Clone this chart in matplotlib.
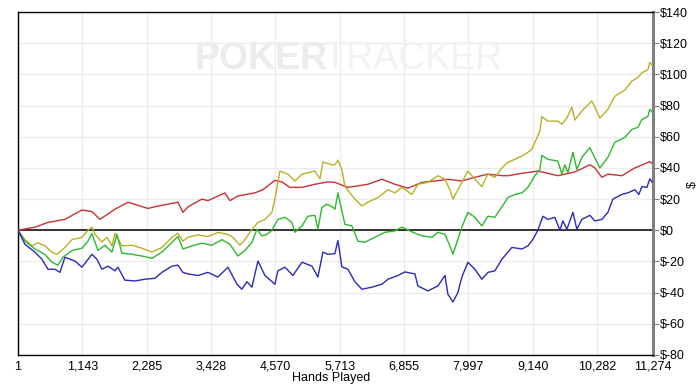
import matplotlib
matplotlib.use("Agg")
import matplotlib.pyplot as plt
from matplotlib.ticker import FuncFormatter

plt.rcParams['font.family'] = ['Liberation Sans Narrow', 'Liberation Sans', 'DejaVu Sans']

# hands played / winnings ($)
red_x = [0, 302, 533, 834, 1136, 1314, 1456, 1722, 1953, 2308, 2485, 2840, 2929, 3018, 3266, 3373,
         3674, 3763, 3905, 4207, 4349, 4562, 4686, 4828, 5042, 5272, 5503, 5627, 5858, 6213, 6461,
         6692, 6923, 7171, 7402, 7633, 7881, 8112, 8343, 8609, 8698, 8946, 9230, 9354, 9585, 9887,
         10153, 10242, 10366, 10473, 10722, 10952, 11218, 11254]
red_y = [0, 2, 5, 7, 13, 12, 7, 13.5, 18, 14, 15.5, 18, 11.5, 15, 20, 19,
         24, 19, 22, 24, 26, 32, 31, 27.5, 27.5, 29.5, 31, 30.7, 27.5, 29.5, 32.7,
         29.5, 27, 30.7, 31.6, 32.7, 31.6, 34, 36, 35, 35, 36.5, 38, 37, 35, 37.4,
         42, 40, 34, 36, 35, 40, 44, 43]

yellow_x = [0, 124, 249, 355, 479, 604, 692, 834, 959, 1136, 1243, 1314, 1367, 1491, 1580, 1669,
            1722, 1846, 2024, 2201, 2379, 2556, 2734, 2840, 2929, 3018, 3195, 3373, 3550, 3728,
            3816, 3941, 4029, 4154, 4260, 4385, 4509, 4562, 4651, 4793, 4917, 5042, 5272, 5361,
            5414, 5574, 5627, 5680, 5751, 5805, 5982, 6106, 6213, 6390, 6568, 6692, 6816, 6994,
            7100, 7278, 7455, 7580, 7668, 7722, 7810, 7988, 8112, 8236, 8343, 8467, 8591, 8698,
            8822, 8946, 9053, 9124, 9177, 9266, 9301, 9408, 9585, 9656, 9745, 9834, 9887, 10011,
            10189, 10331, 10473, 10597, 10775, 10899, 11005, 11076, 11183, 11218, 11254]
yellow_y = [0, -6, -10, -8, -10, -14, -15.5, -11, -6, -4.5, 0, 2, -2.6, -7.5, -4.5, -10,
            -2, -10, -9.6, -11.5, -14, -11, -4.5, -2, -7, -4.5, -3, -4, -1.4, -2.6,
            -4.5, -9.6, -6, 0.6, 5, 7, 11.5, 20, 38, 36, 31.6, 36, 38, 33,
            43.8, 42, 42, 45, 39, 28, 20, 15.6, 18, 21, 26, 24, 27.5, 23,
            29.5, 30.7, 35, 32.7, 26, 20, 26, 38, 32.7, 28, 36, 34, 40, 43.6,
            45.5, 47.6, 50, 52, 56.4, 63.6, 73, 70, 70, 68, 72, 79, 70.7, 76.5,
            83, 72, 77.6, 86, 90, 95.7, 98, 101, 103, 107.7, 106]

green_x = [0, 124, 302, 479, 604, 710, 799, 959, 1136, 1243, 1314, 1420, 1544, 1669, 1757, 1846,
           2024, 2201, 2379, 2556, 2734, 2840, 2929, 3089, 3266, 3444, 3621, 3763, 3905, 4029,
           4154, 4243, 4331, 4420, 4509, 4615, 4740, 4864, 4917, 5042, 5148, 5272, 5325, 5396,
           5485, 5592, 5627, 5680, 5751, 5805, 5929, 6035, 6159, 6337, 6515, 6692, 6816, 6994,
           7171, 7349, 7455, 7580, 7668, 7722, 7810, 7881, 7988, 8112, 8236, 8343, 8467, 8609,
           8698, 8822, 8946, 9053, 9177, 9266, 9301, 9408, 9585, 9656, 9710, 9763, 9852, 9923,
           10011, 10153, 10331, 10473, 10597, 10775, 10899, 11005, 11076, 11183, 11218, 11254]
green_y = [0, -7, -12, -15.5, -20.5, -22.4, -17.3, -13, -11.5, -7, -2, -13, -9.6, -14, -2.6, -14.7,
           -15.4, -16.5, -18, -14, -7.7, -4, -12, -10, -8.3, -9.6, -6, -9, -16.5, -13,
           -7.7, 0.6, -3.6, -2.6, 0, 7, 8.3, 5, -1.3, 2.8, 9, 9.6, 0.6, 14.7,
           16.7, 14.7, 13.5, 24, 12.4, 3.8, 2.8, -7, -7.7, -4.5, -1.3, -0.4, 2, -1,
           -3.6, -4.5, -1.3, -2.6, -10, -15.4, -5.8, 2, 11.5, 8.3, 2.8, 9, 8.3, 16,
           21, 23, 24, 27.5, 35, 39, 48, 45.5, 44.4, 36, 42, 37, 50, 39,
           46.8, 53, 40, 46.8, 56.4, 59.6, 64.7, 66, 71, 73, 77.6, 76]

blue_x = [0, 124, 302, 426, 533, 657, 746, 834, 1012, 1136, 1314, 1402, 1491, 1598, 1722, 1775,
          1899, 2077, 2254, 2432, 2556, 2734, 2840, 2929, 3018, 3195, 3373, 3550, 3728, 3888,
          3976, 4065, 4154, 4260, 4385, 4562, 4615, 4740, 4882, 5042, 5219, 5325, 5414, 5503,
          5627, 5680, 5751, 5858, 5982, 6106, 6284, 6461, 6568, 6746, 6870, 7047, 7100, 7278,
          7455, 7580, 7633, 7722, 7810, 7881, 7988, 8112, 8236, 8343, 8467, 8591, 8769, 8946,
          9053, 9142, 9230, 9319, 9408, 9532, 9621, 9674, 9745, 9852, 9923, 10011, 10153, 10242,
          10366, 10473, 10562, 10722, 10828, 10952, 11023, 11076, 11165, 11218, 11254]
blue_y = [0, -9, -14, -18.6, -25, -25, -27, -17.3, -19.7, -23.7, -15.4, -18.6, -25, -23, -26, -23.7,
          -32, -32.5, -31.4, -30.8, -27, -23, -22.4, -27, -28, -29, -27, -30, -23.7, -34.6,
          -37.8, -33, -36.5, -19.7, -29, -34.6, -26, -23.7, -29, -20.5, -23, -30, -14, -15.4,
          -15, -6.5, -23.5, -25, -33, -37.8, -36.5, -34.6, -31.4, -29, -26.7, -28, -35.7, -38.9,
          -35.7, -29, -41, -46, -40, -30, -20.5, -25, -31.4, -27, -26, -18.6, -11, -12,
          -10, -5.8, 0, 9, 7, 8.3, 0, 6, 0.6, 11.5, 0.6, 7, 9.6, 6,
          7, 11.5, 20, 23, 24, 26, 23, 28, 27.5, 33, 31]

x_ticks = [1, 1143, 2285, 3428, 4570, 5713, 6855, 7997, 9140, 10282, 11274]
y_ticks = [-80, -60, -40, -20, 0, 20, 40, 60, 80, 100, 120, 140]

fig = plt.figure(figsize=(7, 3.85), dpi=100)
ax = fig.add_axes([18 / 700, 1 - 355 / 385, 635 / 700, 343 / 385])

# watermark
fig.text(0.278, 0.848, 'POKER', fontsize=27, fontweight='bold', color='#ececec',
         family='Liberation Sans', va='center', ha='left', zorder=0)
fig.text(0.462, 0.848, 'TRACKER', fontsize=27, color='#f2f2f2',
         family='Liberation Sans', va='center', ha='left', zorder=0)

ax.patch.set_alpha(0)
ax.plot(red_x, red_y, color='#c83232', lw=1, zorder=3)
ax.plot(yellow_x, yellow_y, color='#b8b025', lw=1, zorder=4)
ax.plot(green_x, green_y, color='#2eb82e', lw=1, zorder=5)
ax.plot(blue_x, blue_y, color='#2a2ab8', lw=1, zorder=6)
ax.axhline(0, color='black', lw=1.1, zorder=2)

ax.set_xlim(1, 11274)
ax.set_ylim(-80, 140)
ax.set_xticks(x_ticks)
ax.set_xticklabels([f'{t:,}' for t in x_ticks])
ax.set_yticks(y_ticks)
ax.yaxis.set_major_formatter(FuncFormatter(lambda v, p: f'${int(v)}' if v >= 0 else f'$-{int(-v)}'))
ax.yaxis.tick_right()
ax.yaxis.set_label_position('right')
ax.tick_params(axis='y', direction='out', length=4, color='#808080', labelsize=9, pad=1)
ax.tick_params(axis='x', length=0, labelsize=9, pad=4)
ax.grid(True, color='#ececec', lw=1)
ax.set_axisbelow(True)

for s in ['left', 'bottom', 'top']:
    ax.spines[s].set_color('black')
    ax.spines[s].set_linewidth(1)
ax.spines['right'].set_color('#808080')
ax.spines['right'].set_linewidth(2.2)

fig.text(0.473, 0.002, 'Hands Played', fontsize=9, ha='center', va='bottom')
fig.text(0.99, 0.52, '$', fontsize=9, rotation=90, ha='center', va='center')

plt.savefig('out.png', dpi=100)
